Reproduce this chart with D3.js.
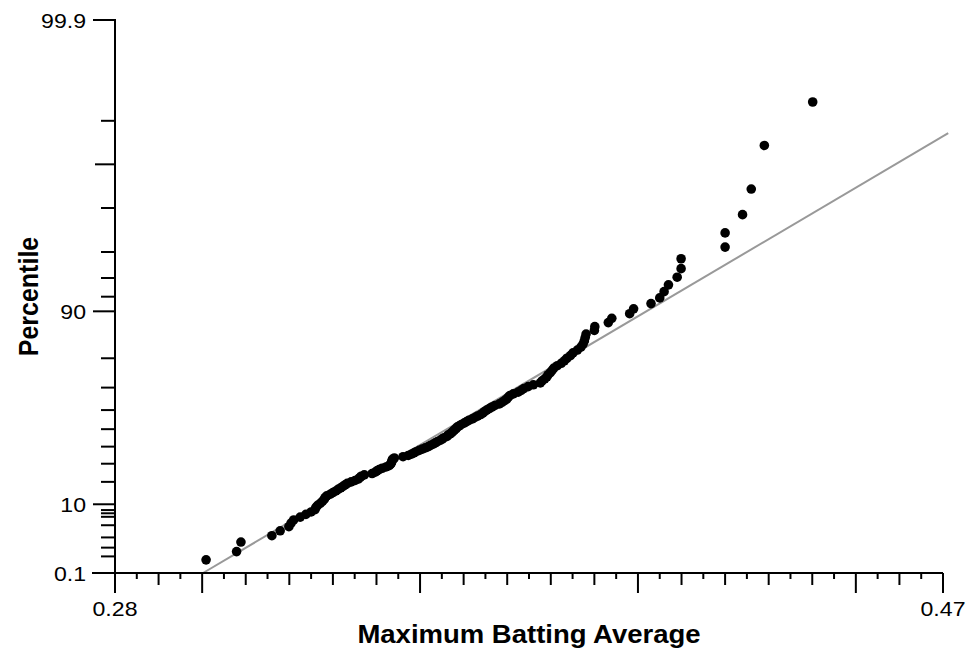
<!DOCTYPE html>
<html>
<head>
<meta charset="utf-8">
<script src="https://cdn.jsdelivr.net/npm/d3@7/dist/d3.min.js"></script>
<style>
  html, body { margin: 0; padding: 0; background: #fff; }
  svg { display: block; font-family: "Liberation Sans", Arial, Helvetica, sans-serif; }
</style>
</head>
<body>
<svg id="chart" width="974" height="654"></svg>
<script>
// Seasonal maximum batting averages, sorted ascending
const battingAverages = [
  0.3009, 0.3079, 0.3089, 0.3160, 0.3179, 0.3199, 0.3204, 0.3210, 0.3225, 0.3238,
  0.3250, 0.3259, 0.3261, 0.3265, 0.3271, 0.3276, 0.3280, 0.3282, 0.3286, 0.3294,
  0.3300, 0.3307, 0.3312, 0.3318, 0.3323, 0.3328, 0.3333, 0.3342, 0.3351, 0.3358,
  0.3362, 0.3365, 0.3372, 0.3390, 0.3397, 0.3401, 0.3406, 0.3413, 0.3422, 0.3429,
  0.3432, 0.3434, 0.3435, 0.3436, 0.3437, 0.3441, 0.3461, 0.3473, 0.3480, 0.3486,
  0.3491, 0.3498, 0.3505, 0.3512, 0.3519, 0.3524, 0.3530, 0.3535, 0.3540, 0.3546,
  0.3551, 0.3555, 0.3562, 0.3564, 0.3569, 0.3573, 0.3576, 0.3579, 0.3583, 0.3585,
  0.3590, 0.3595, 0.3601, 0.3607, 0.3612, 0.3620, 0.3626, 0.3632, 0.3639, 0.3644,
  0.3648, 0.3653, 0.3659, 0.3665, 0.3672, 0.3682, 0.3688, 0.3694, 0.3699, 0.3702,
  0.3706, 0.3714, 0.3725, 0.3732, 0.3738, 0.3748, 0.3760, 0.3776, 0.3780, 0.3786,
  0.3791, 0.3794, 0.3799, 0.3803, 0.3807, 0.3815, 0.3824, 0.3831, 0.3837, 0.3845,
  0.3851, 0.3861, 0.3869, 0.3874, 0.3877, 0.3879, 0.3881, 0.3900, 0.3901, 0.3932,
  0.3940, 0.3981, 0.3990, 0.4030, 0.4050, 0.4060, 0.4070, 0.4090, 0.4099, 0.4099,
  0.4200, 0.4200, 0.4240, 0.4260, 0.4290, 0.4401
];

// Percentile axis (Gumbel probability scale)
const yLabelTicks = [0.1, 10, 90, 99.9];
const yMinorTicks = [0.5, 1, 2, 4, 6, 7, 8, 20, 30, 40, 50, 60, 70, 80, 92, 94, 96, 98, 99.5];
const yMediumTicks = [99];

// Batting average axis
const xDomain = [0.28, 0.47];
const xLabelTicks = [0.28, 0.47];
const xTickStep = 0.005;

// Fitted Gumbel (extreme value) distribution
const fitLocation = 0.3472;
const fitScale = 0.02432;
const fitEndX = 0.4712;

(function draw() {
  const svg = d3.select("#chart");
  const plot = { left: 115, right: 943, top: 20, bottom: 573 };
  const textStretch = 1.1;   // type is set slightly wide

  // reduced Gumbel variate for a percentile
  const gumbel = p => -Math.log(-Math.log(p / 100));

  const x = d3.scaleLinear().domain(xDomain).range([plot.left, plot.right]);
  const yG = d3.scaleLinear().domain([gumbel(0.1), gumbel(99.9)]).range([plot.bottom, plot.top]);
  const y = p => yG(gumbel(p));

  const axisColor = "#000";
  const tickW = 2;

  // fitted line
  const fitStartX = fitLocation + fitScale * gumbel(0.1);
  svg.append("line")
    .attr("x1", x(fitStartX)).attr("y1", yG((fitStartX - fitLocation) / fitScale))
    .attr("x2", x(fitEndX)).attr("y2", yG((fitEndX - fitLocation) / fitScale))
    .attr("stroke", "#999").attr("stroke-width", 2);

  // points at their plotting positions
  const n = battingAverages.length - 1;
  const plotPos = i => {
    if (i === 0) return 100 * 0.5 / n;
    if (i === n) return 100 * (1 - 0.5 / n);
    return 100 * i / n;
  };
  svg.append("g").selectAll("circle")
    .data(battingAverages)
    .join("circle")
    .attr("cx", d => x(d))
    .attr("cy", (d, i) => y(plotPos(i)))
    .attr("r", 4.8)
    .attr("fill", "#000");

  // y axis
  const gy = svg.append("g");
  gy.append("line").attr("x1", plot.left).attr("x2", plot.left)
    .attr("y1", plot.top - 1).attr("y2", plot.bottom + 20)
    .attr("stroke", axisColor).attr("stroke-width", tickW);
  const yTicks = [
    ...yLabelTicks.map(v => ({ v, len: 22 })),
    ...yMediumTicks.map(v => ({ v, len: 20 })),
    ...yMinorTicks.map(v => ({ v, len: 14 }))
  ];
  gy.selectAll("line.tick").data(yTicks).join("line").attr("class", "tick")
    .attr("x1", d => plot.left - d.len).attr("x2", plot.left)
    .attr("y1", d => y(d.v)).attr("y2", d => y(d.v))
    .attr("stroke", axisColor).attr("stroke-width", tickW);
  gy.selectAll("text").data(yLabelTicks).join("text")
    .attr("transform", d => `translate(${plot.left - 29},${y(d)}) scale(${textStretch},1)`)
    .attr("dy", "0.36em").attr("text-anchor", "end")
    .attr("font-size", 21).text(d => d);

  // x axis
  const gx = svg.append("g");
  gx.append("line").attr("x1", plot.left - 23).attr("x2", plot.right)
    .attr("y1", plot.bottom).attr("y2", plot.bottom)
    .attr("stroke", axisColor).attr("stroke-width", tickW);
  const xTicks = d3.range(Math.round((xDomain[1] - xDomain[0]) / xTickStep) + 1)
    .map(k => +(xDomain[0] + k * xTickStep).toFixed(3));
  const tickLen = v => {
    const c = Math.round(v * 1000);
    if (v === xDomain[0] || v === xDomain[1] || c % 50 === 0) return 20;
    if (c % 10 === 0) return 12;
    return 6;
  };
  gx.selectAll("line.tick").data(xTicks).join("line").attr("class", "tick")
    .attr("x1", d => x(d)).attr("x2", d => x(d))
    .attr("y1", plot.bottom).attr("y2", d => plot.bottom + tickLen(d))
    .attr("stroke", axisColor).attr("stroke-width", tickW);
  gx.selectAll("text").data(xLabelTicks).join("text")
    .attr("transform", d => `translate(${x(d)},616) scale(${textStretch},1)`)
    .attr("text-anchor", "middle").attr("font-size", 21).text(d => d);

  // axis titles
  svg.append("text")
    .attr("transform", `translate(${(plot.left + plot.right) / 2},643) scale(${textStretch},1)`)
    .attr("text-anchor", "middle").attr("font-size", 25).attr("font-weight", "bold")
    .text("Maximum Batting Average");
  svg.append("text")
    .attr("transform", `translate(38,${(plot.top + plot.bottom) / 2}) scale(${textStretch},1) rotate(-90)`)
    .attr("text-anchor", "middle").attr("font-size", 25).attr("font-weight", "bold")
    .text("Percentile");
})();
</script>
</body>
</html>
